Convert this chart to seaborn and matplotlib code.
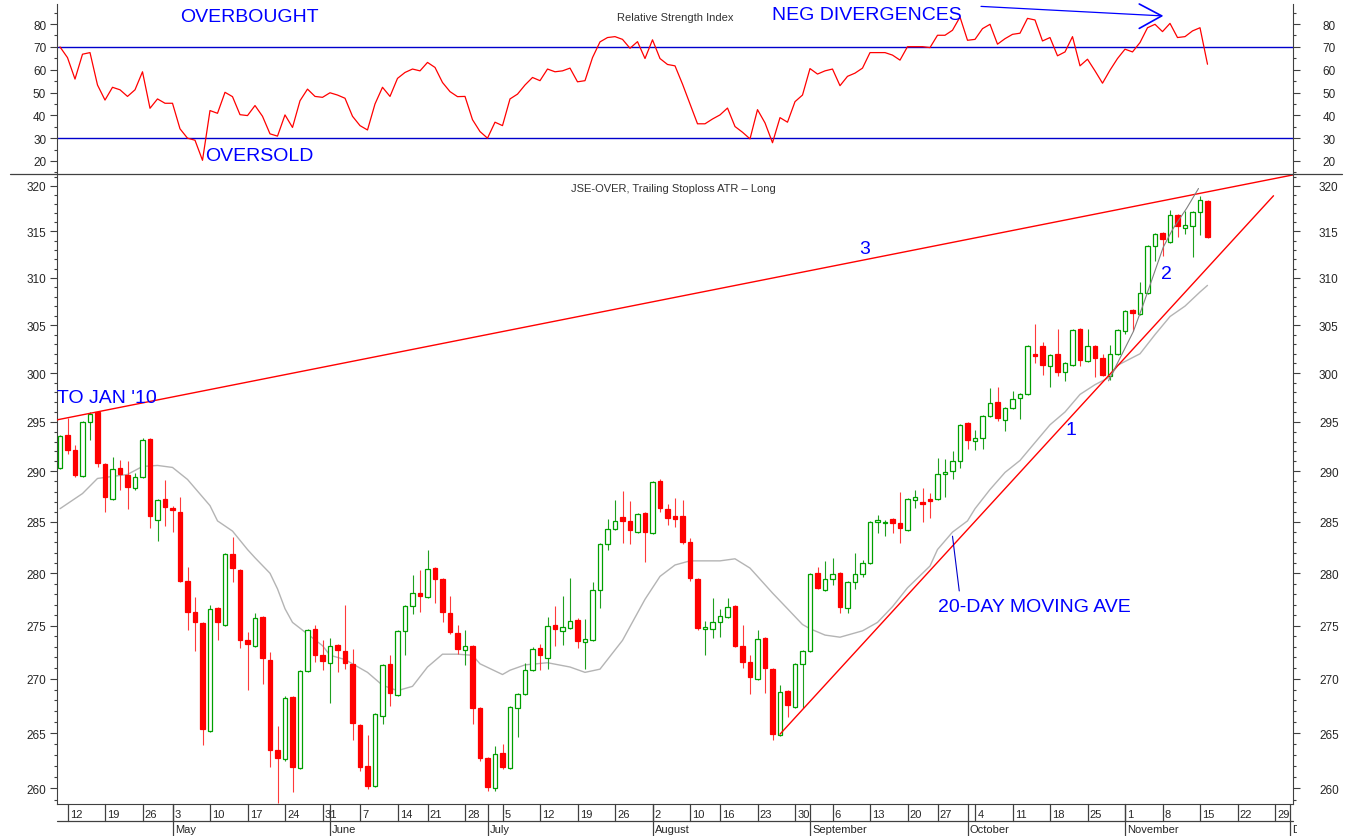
import numpy as np
import pandas as pd
import seaborn as sns
import matplotlib
matplotlib.use("Agg")
import matplotlib.pyplot as plt
from matplotlib.lines import Line2D
from matplotlib.ticker import FixedLocator, NullFormatter, FuncFormatter
from matplotlib.transforms import Bbox, TransformedBbox

W, H = 1350, 837

# JSE trading calendar (weekends and SA public holidays dropped)
holidays = pd.to_datetime(["2010-04-27", "2010-06-16", "2010-08-09", "2010-09-24"])
calendar = pd.bdate_range("2010-04-09", "2010-12-01")
calendar = calendar[~calendar.isin(holidays)]

opens = [290.3, 293.7, 292.2, 289.5, 295.0, 296.0, 290.7, 287.3, 290.3, 289.6,
         288.3, 289.4, 293.3, 285.2, 287.3, 286.4, 286.0, 279.3, 276.3, 275.2,
         265.2, 276.7, 275.1, 281.9, 280.3, 273.6, 273.1, 275.8, 271.8, 263.5,
         262.6, 268.3, 261.8, 270.7, 274.7, 272.2, 271.5, 273.2, 272.6, 271.4,
         265.7, 262.0, 260.2, 266.6, 271.4, 268.5, 274.5, 276.9, 278.1, 277.7,
         280.5, 279.4, 276.2, 274.3, 272.7, 273.1, 267.3, 262.7, 260.0, 263.2,
         261.8, 267.3, 268.6, 270.8, 272.9, 271.9, 275.1, 274.5, 274.8, 275.5,
         273.4, 273.6, 278.4, 282.8, 284.3, 285.5, 285.1, 284.0, 285.9, 283.9,
         289.0, 286.3, 285.6, 285.6, 283.0, 279.4, 274.7, 274.7, 275.3, 275.8,
         276.9, 273.1, 271.6, 270.0, 273.8, 270.9, 264.8, 268.9, 267.4, 271.4,
         272.6, 280.0, 278.4, 279.4, 280.0, 276.7, 279.2, 279.9, 281.0, 285.0,
         284.9, 285.3, 284.9, 284.2, 287.2, 287.0, 287.3, 287.3, 289.7, 290.0,
         291.0, 294.9, 293.1, 293.4, 295.6, 297.0, 295.2, 296.4, 297.4, 297.8,
         302.0, 302.8, 300.7, 302.0, 300.1, 300.8, 304.6, 301.2, 302.8, 301.6,
         299.7, 302.0, 304.4, 306.6, 306.2, 308.4, 313.4, 314.8, 313.9, 316.8,
         315.4, 315.6, 317.1, 318.3]
highs = [293.7, 295.4, 292.7, 295.1, 296.0, 296.1, 290.8, 291.4, 291.1, 291.0,
         289.8, 293.4, 293.4, 287.3, 289.1, 286.6, 287.5, 280.6, 277.7, 275.3,
         277.0, 276.8, 282.0, 283.5, 280.4, 274.4, 276.2, 275.9, 272.5, 265.6,
         268.4, 268.4, 270.8, 274.7, 275.1, 273.6, 273.8, 273.3, 277.0, 272.8,
         265.8, 264.8, 266.8, 271.4, 272.2, 274.6, 277.0, 279.8, 280.3, 282.3,
         280.6, 279.5, 277.8, 275.1, 274.6, 273.2, 267.4, 262.8, 263.8, 264.0,
         267.5, 268.7, 271.5, 273.0, 273.3, 275.8, 276.9, 277.8, 279.5, 275.7,
         275.6, 279.2, 282.9, 285.3, 287.2, 288.1, 287.1, 285.9, 286.0, 289.0,
         289.2, 286.8, 287.4, 287.2, 283.4, 279.5, 275.4, 277.6, 276.6, 277.6,
         277.0, 275.1, 272.2, 274.6, 273.9, 271.0, 269.4, 269.0, 271.5, 272.7,
         280.0, 280.6, 281.2, 281.5, 280.1, 279.3, 282.0, 281.3, 285.1, 285.7,
         285.2, 285.4, 288.0, 287.4, 288.2, 288.3, 287.9, 291.3, 291.2, 292.0,
         294.8, 295.0, 294.2, 295.7, 298.5, 298.6, 296.5, 298.1, 297.9, 302.9,
         305.1, 303.2, 302.0, 304.6, 301.1, 304.6, 304.7, 304.6, 302.9, 302.0,
         302.9, 304.6, 306.6, 306.7, 309.6, 313.5, 314.8, 314.9, 317.3, 316.9,
         317.2, 317.2, 318.9, 318.4]
lows = [290.2, 291.7, 289.4, 289.4, 293.2, 290.4, 286.0, 287.2, 288.2, 286.3,
        288.2, 289.3, 284.4, 283.1, 284.6, 284.0, 279.2, 274.6, 272.6, 263.9,
        265.1, 273.6, 275.0, 279.2, 272.9, 269.0, 273.0, 269.5, 261.9, 258.7,
        262.5, 259.7, 261.7, 270.6, 271.6, 270.8, 267.8, 270.6, 270.9, 264.4,
        261.6, 259.9, 260.1, 265.8, 267.5, 268.4, 272.2, 276.1, 276.3, 277.6,
        277.1, 275.3, 274.2, 272.3, 271.3, 265.8, 262.5, 259.8, 259.8, 261.7,
        261.7, 264.6, 268.5, 270.7, 270.8, 270.9, 273.1, 273.2, 274.7, 272.9,
        270.9, 273.5, 276.7, 282.3, 284.2, 282.9, 282.8, 283.9, 281.1, 283.8,
        286.0, 284.7, 284.5, 282.8, 279.3, 274.6, 272.2, 273.8, 273.9, 275.7,
        273.0, 271.0, 268.6, 269.9, 268.7, 264.4, 264.7, 266.5, 267.3, 267.3,
        272.5, 278.5, 278.3, 278.9, 276.2, 276.2, 278.5, 279.6, 280.9, 283.9,
        283.6, 283.9, 282.9, 284.1, 286.4, 285.0, 285.4, 287.2, 287.5, 289.2,
        290.3, 292.3, 292.2, 292.3, 295.5, 295.1, 294.1, 296.3, 295.3, 297.7,
        301.0, 299.8, 298.6, 299.7, 299.2, 300.7, 300.7, 301.1, 299.6, 299.7,
        299.3, 301.9, 304.1, 304.4, 306.1, 308.3, 311.8, 312.3, 313.7, 314.4,
        314.7, 312.2, 314.6, 314.3]
closes = [293.6, 292.2, 289.6, 295.0, 295.8, 290.8, 287.5, 290.2, 289.7, 288.4,
          289.4, 293.2, 285.6, 287.2, 286.5, 286.2, 279.3, 276.3, 275.3, 265.4,
          276.6, 275.3, 281.9, 280.5, 273.6, 273.3, 275.7, 271.9, 263.5, 262.7,
          268.2, 261.9, 270.7, 274.6, 272.2, 271.7, 273.1, 272.7, 271.5, 265.9,
          261.9, 260.2, 266.7, 271.3, 268.7, 274.5, 276.9, 278.1, 277.8, 280.4,
          279.4, 276.3, 274.4, 272.8, 273.1, 267.3, 262.7, 260.1, 263.1, 261.9,
          267.4, 268.6, 270.8, 272.8, 272.2, 275.0, 274.7, 274.9, 275.4, 273.5,
          273.7, 278.4, 282.8, 284.3, 285.1, 285.1, 284.2, 285.8, 284.0, 288.9,
          286.4, 285.4, 285.3, 283.0, 279.5, 274.8, 274.9, 275.3, 275.9, 276.8,
          273.1, 271.6, 270.2, 273.7, 271.0, 264.9, 268.8, 267.6, 271.4, 272.6,
          279.9, 278.6, 279.4, 279.9, 276.8, 279.2, 279.9, 281.0, 285.0, 285.2,
          285.0, 284.9, 284.4, 287.3, 287.5, 286.8, 287.1, 289.7, 289.9, 291.0,
          294.7, 293.2, 293.4, 295.6, 296.9, 295.4, 296.4, 297.3, 297.8, 302.8,
          301.8, 300.8, 301.9, 300.1, 301.0, 304.5, 301.4, 302.8, 301.6, 299.8,
          302.0, 304.5, 306.5, 306.3, 308.4, 313.4, 314.7, 314.2, 316.8, 315.6,
          315.7, 317.1, 318.4, 314.4]

rsi = [70.0, 65.3, 55.9, 66.8, 67.5, 53.3, 46.7, 52.3, 51.2, 48.3,
       51.2, 59.1, 43.1, 47.2, 45.3, 45.3, 34.1, 30.0, 29.1, 20.3,
       42.1, 40.9, 50.1, 48.2, 40.3, 39.9, 44.3, 39.6, 31.9, 30.9,
       40.2, 34.7, 46.4, 51.5, 48.3, 47.9, 49.9, 48.9, 47.5, 39.6,
       35.5, 33.6, 45.0, 52.3, 48.3, 56.2, 58.8, 60.3, 59.5, 63.2,
       61.0, 54.4, 50.4, 48.2, 48.3, 38.1, 32.9, 30.0, 37.0, 35.5,
       47.2, 49.3, 53.3, 56.6, 55.2, 60.3, 59.1, 59.5, 60.7, 54.7,
       55.2, 65.3, 72.2, 74.1, 74.5, 73.3, 69.4, 72.3, 64.9, 73.1,
       64.9, 62.3, 61.7, 53.7, 45.0, 36.3, 36.3, 38.4, 40.2, 43.2,
       35.1, 32.6, 29.7, 42.5, 36.7, 28.0, 39.0, 37.0, 46.0, 48.9,
       60.5, 58.1, 59.5, 60.3, 53.0, 57.1, 58.5, 60.7, 67.5, 67.5,
       67.5, 66.4, 64.2, 70.1, 70.1, 70.1, 69.7, 75.1, 75.1, 77.3,
       83.1, 72.9, 73.3, 78.0, 79.9, 71.2, 73.6, 75.5, 76.0, 82.5,
       81.8, 72.6, 74.1, 66.1, 67.8, 74.5, 61.7, 64.6, 59.5, 54.1,
       59.8, 64.9, 69.0, 67.8, 71.9, 78.4, 79.9, 76.7, 80.3, 74.1,
       74.5, 77.0, 78.4, 62.4]

# 20-day moving average at these bars
ma_idx = [0, 3, 5, 7, 9, 11, 13, 15, 17, 20, 21, 23, 25, 26, 28, 29, 30, 31, 33, 35,
          36, 38, 41, 43, 45, 47, 49, 51, 53, 55, 56, 59, 60, 62, 65, 68, 70, 72, 75, 76,
          78, 80, 82, 84, 88, 90, 92, 93, 95, 97, 99, 100, 102, 104, 107, 109, 111, 113, 116, 117,
          119, 121, 122, 124, 126, 128, 130, 132, 134, 136, 138, 140, 141, 144, 146, 148, 150, 152, 153]
ma_vals = [286.3, 287.8, 289.3, 289.5, 289.7, 290.5, 290.6, 290.4, 289.2, 286.6,
           285.1, 284.1, 282.3, 281.5, 280.0, 278.5, 276.6, 275.3, 274.2, 273.1,
           272.2, 271.8, 270.6, 269.4, 268.9, 269.3, 271.1, 272.3, 272.3, 272.2,
           271.4, 270.4, 270.8, 271.3, 271.5, 271.1, 270.6, 270.9, 273.6, 274.9,
           277.5, 279.7, 280.8, 281.2, 281.2, 281.4, 280.5, 279.7, 278.1, 276.6,
           275.1, 274.7, 274.1, 273.9, 274.5, 275.3, 276.8, 278.6, 280.7, 282.3,
           284.0, 285.1, 286.3, 288.2, 289.9, 291.1, 292.9, 294.7, 296.0, 297.8,
           298.8, 299.6, 300.8, 302.0, 304.0, 305.9, 307.0, 308.5, 309.2]

# hand-drawn annotation lines (bar index, price / RSI)
trend3 = ([-0.4, 164.4], [295.2, 321.2])
trend1 = ([96.0, 161.8], [264.9, 318.9])
trend2 = ([139.8, 141.3, 143.1, 144.4, 145.8, 147.1, 148.4, 150.2, 151.8],
          [299.2, 301.5, 304.3, 307.1, 310.3, 313.3, 315.3, 317.5, 319.7])
ma_pointer = ([119.0, 119.9], [283.6, 278.3])
div_shaft = ([122.8, 146.9], [87.75, 83.6])
div_head = ([143.9, 146.9, 143.9], [88.8, 83.6, 78.1])

RED = "#ff0000"
GREEN = "#00a000"
BLUE = "#0000ff"
LINE_BLUE = "#0000cc"
AXC = "#404040"
TXT = "#262626"

sns.set_style("ticks")
plt.rcParams["font.family"] = ["Liberation Sans", "DejaVu Sans"]


def fx(px):
    return px / W


def fy(py):
    return 1 - py / H


def style_y(a, lim, majors, minors, log=False):
    if log:
        a.set_yscale("log")
    a.set_ylim(*lim)
    a.yaxis.set_major_locator(FixedLocator(majors))
    a.yaxis.set_minor_locator(FixedLocator(minors))
    a.yaxis.set_major_formatter(FuncFormatter(lambda v, p: f"{v:.0f}"))
    a.yaxis.set_minor_formatter(NullFormatter())
    a.tick_params(axis="y", which="major", direction="out", length=4.8, width=0.8,
                  color=AXC, labelsize=8.5, labelcolor=TXT, pad=3)
    a.tick_params(axis="y", which="minor", direction="out", length=2.4, width=0.8, color=AXC)
    a.tick_params(axis="x", which="both", bottom=False, top=False, labelbottom=False)
    for s in a.spines.values():
        s.set_color(AXC)
        s.set_linewidth(0.8)


def add_right_labels(a, lim, majors, minors, log=False):
    r = a.twinx()
    style_y(r, lim, majors, minors, log)
    r.tick_params(axis="y", which="both", left=False, right=True, labelleft=False, labelright=True)
    r.tick_params(axis="y", which="major", pad=21)
    plt.setp(r.get_yticklabels(), ha="center")
    for side in ("top", "bottom", "left"):
        r.spines[side].set_visible(False)
    return r


fig = plt.figure(figsize=(W / 100, H / 100), dpi=100)
left, right = fx(57), fx(1293)
ax_rsi = fig.add_axes([left, fy(175), right - left, 170 / H])
ax = fig.add_axes([left, fy(805), right - left, 630 / H])
xlim = (-0.4, 164.4)

# ---------------- RSI panel ----------------
rsi_lim = (14.3, 88.8)
rsi_major = list(range(20, 81, 10))
rsi_minor = [v for v in range(15, 90, 5) if v % 10]
style_y(ax_rsi, rsi_lim, rsi_major, rsi_minor)
sns.lineplot(x=np.arange(len(rsi)), y=rsi, ax=ax_rsi, color=RED, linewidth=0.9, legend=False)
ax_rsi.axhline(70, color=LINE_BLUE, lw=1.0, zorder=1)
ax_rsi.axhline(30, color=LINE_BLUE, lw=1.0, zorder=1)
ax_rsi.plot(*div_shaft, color=BLUE, lw=0.9, clip_on=False)
ax_rsi.plot(*div_head, color=BLUE, lw=1.2, clip_on=False)
ax_rsi.set_xlim(*xlim)
ax_rsi.set_xlabel("")
ax_rsi.set_ylabel("")
ax_rsi.spines["top"].set_visible(False)
ax_rsi.spines["bottom"].set_visible(False)
ax_rsi.spines["right"].set_visible(False)
add_right_labels(ax_rsi, rsi_lim, rsi_major, rsi_minor)

# ---------------- price panel ----------------
price_lim = (258.6, 321.3)
price_major = list(range(260, 321, 5))
price_minor = [v for v in range(259, 322) if v % 5]
style_y(ax, price_lim, price_major, price_minor, log=True)

x = np.arange(len(closes))
o, h, l, c = (np.array(v) for v in (opens, highs, lows, closes))
up = c >= o
ax.vlines(x, l, h, colors=np.where(up, "#1f9f1f", "#ff3a3a").tolist(), lw=0.8, zorder=2)
ax.bar(x, np.maximum(np.abs(c - o), 0.12), bottom=np.minimum(o, c), width=0.62,
       color=np.where(up, "white", RED).tolist(),
       edgecolor=np.where(up, GREEN, RED).tolist(), linewidth=0.9, zorder=3)

sns.lineplot(x=ma_idx, y=ma_vals, ax=ax, color="#b4b4b4", linewidth=1.0, legend=False, zorder=1)

ax.plot(*trend3, color=RED, lw=1.0, zorder=4)
ax.plot(*trend1, color=RED, lw=1.0, zorder=4)
ax.plot(*trend2, color="#808080", lw=0.8, zorder=4)
ax.plot(*ma_pointer, color=LINE_BLUE, lw=0.8, zorder=4)

ax.set_xlim(*xlim)
ax.set_ylim(*price_lim)
ax.set_xlabel("")
ax.set_ylabel("")
ax.spines["top"].set_visible(False)
ax.spines["right"].set_visible(False)
add_right_labels(ax, price_lim, price_major, price_minor, log=True)

# ---------------- date rows under the price panel ----------------
trans = ax.get_xaxis_transform()


def ay(py):
    return -(py - 805) / 630


week_ticks, month_ticks = [], []
for i in range(1, len(calendar)):
    d, prev = calendar[i], calendar[i - 1]
    if d.isocalendar()[1] != prev.isocalendar()[1]:
        week_ticks.append((i, str(d.day)))
    if d.month != prev.month:
        month_ticks.append((i, d.strftime("%B")))

clip = TransformedBbox(Bbox([[0, 0], [fx(1297), 1]]), fig.transFigure)
for i, lab in week_ticks:
    ax.plot([i, i], [ay(805), ay(821.7)], transform=trans, clip_on=False, color=AXC, lw=0.9)
    ax.text(i + 0.3, ay(818.5), lab, transform=trans, fontsize=8, color=TXT,
            ha="left", va="baseline")
for i, lab in month_ticks:
    ax.plot([i, i], [ay(805), ay(837)], transform=trans, clip_on=False, color=AXC, lw=0.9)
    t = ax.text(i + 0.3, ay(833.5), lab, transform=trans, fontsize=8, color=TXT,
                ha="left", va="baseline")
    t.set_clip_box(clip)
    t.set_clip_on(True)
ax.plot(xlim, [ay(821.7)] * 2, transform=trans, clip_on=False, color=AXC, lw=0.9)

# panel separator
fig.add_artist(Line2D([fx(10), fx(1342)], [fy(175), fy(175)], color=AXC, lw=0.9))

# ---------------- text annotations ----------------
big = dict(color=BLUE, fontsize=14, va="baseline")
fig.text(fx(180), fy(21.7), "OVERBOUGHT", ha="left", **big)
fig.text(fx(205), fy(160.7), "OVERSOLD", ha="left", **big)
fig.text(fx(772), fy(20), "NEG DIVERGENCES", ha="left", **big)
fig.text(fx(57), fy(402.7), "TO JAN '10", ha="left", **big)
fig.text(fx(938), fy(611.7), "20-DAY MOVING AVE", ha="left", **big)
fig.text(fx(865), fy(254), "3", ha="center", **big)
fig.text(fx(1166), fy(279), "2", ha="center", **big)
fig.text(fx(1071), fy(435), "1", ha="center", **big)
fig.text(fx(675), fy(21), "Relative Strength Index", ha="center", va="baseline",
         fontsize=8, color="#333333")
fig.text(fx(673), fy(192), "JSE-OVER, Trailing Stoploss ATR \u2013 Long", ha="center",
         va="baseline", fontsize=8, color="#333333")

fig.savefig("out.png", dpi=100, facecolor="white")
